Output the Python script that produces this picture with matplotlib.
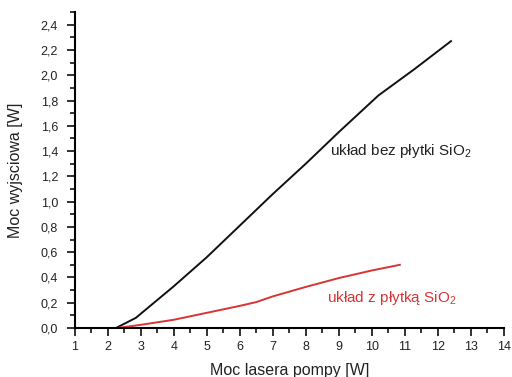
import numpy as np
import matplotlib
matplotlib.use('Agg')
import matplotlib.pyplot as plt
from matplotlib.ticker import MultipleLocator, FuncFormatter

plt.rcParams['font.family'] = ['Liberation Sans', 'DejaVu Sans']
plt.rcParams['mathtext.fontset'] = 'custom'
plt.rcParams['mathtext.rm'] = 'Liberation Sans'

# Moc lasera pompy [W] vs moc wyjsciowa [W]
x_bez = [2.25, 2.85, 4.0, 5.0, 6.0, 7.0, 8.0, 9.0, 10.2, 11.3, 12.4]
y_bez = [0.0, 0.08, 0.33, 0.56, 0.81, 1.06, 1.30, 1.55, 1.84, 2.05, 2.27]

x_z = [2.3, 3.0, 4.0, 5.0, 6.0, 6.5, 7.0, 8.0, 9.0, 10.0, 10.85]
y_z = [0.0, 0.025, 0.065, 0.12, 0.175, 0.205, 0.25, 0.325, 0.395, 0.455, 0.50]

label_bez = 'układ bez płytki SiO$_\\mathregular{2}$'
label_z = 'układ z płytką SiO$_\\mathregular{2}$'

fig = plt.figure(figsize=(5.12, 3.77), dpi=100)
ax = fig.add_axes([0.146, 0.130, 0.838, 0.838])

ax.plot(x_bez, y_bez, color='#111111', lw=1.4)
ax.plot(x_z, y_z, color='#d93434', lw=1.4)

ax.text(8.73, 1.40, label_bez, fontsize=11, color='#222222', va='center')
ax.text(8.64, 0.24, label_z, fontsize=11, color='#d93434', va='center')

ax.set_xlim(1, 14)
ax.set_ylim(0, 2.5)
ax.xaxis.set_major_locator(MultipleLocator(1))
ax.xaxis.set_minor_locator(MultipleLocator(0.5))
ax.yaxis.set_major_locator(MultipleLocator(0.2))
ax.yaxis.set_minor_locator(MultipleLocator(0.1))
ax.yaxis.set_major_formatter(FuncFormatter(lambda v, p: f'{v:.1f}'.replace('.', ',')))

for side in ['top', 'right']:
    ax.spines[side].set_visible(False)
for side in ['left', 'bottom']:
    ax.spines[side].set_linewidth(1.5)
ax.tick_params(which='major', direction='out', length=6, width=1.3, labelsize=9, colors='#222222')
ax.tick_params(axis='y', which='major', pad=6)
ax.tick_params(which='minor', direction='out', length=3.5, width=1.1)

ax.set_xlabel('Moc lasera pompy [W]', fontsize=11.5, color='#222222', labelpad=7)
ax.set_ylabel('Moc wyjsciowa [W]', fontsize=11.5, color='#222222', labelpad=13)

fig.savefig('out.png', dpi=100)
